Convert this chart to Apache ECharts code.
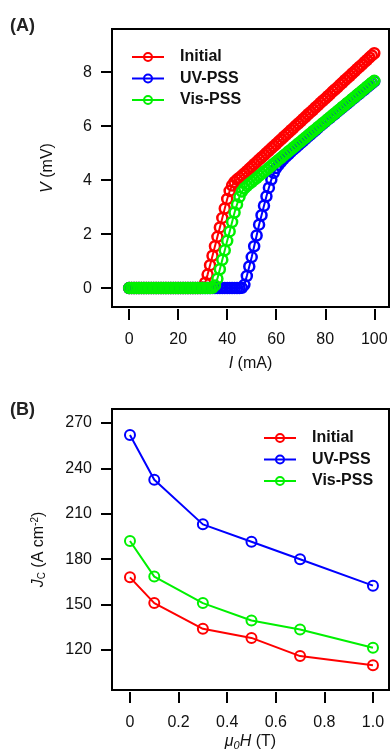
<!DOCTYPE html>
<html>
<head>
<meta charset="utf-8">
<script src="https://cdn.jsdelivr.net/npm/echarts@6/dist/echarts.min.js"></script>
<style>
  html, body { margin: 0; padding: 0; background: #fff; }
  #chart { width: 392px; height: 752px; }
</style>
</head>
<body>
<div id="chart"></div>
<script>
// (A) I-V curves, current in mA
const currentA = [
  0, 1, 2, 3, 4, 5, 6, 7, 8, 9,
  10, 11, 12, 13, 14, 15, 16, 17, 18, 19,
  20, 21, 22, 23, 24, 25, 26, 27, 28, 29,
  30, 31, 32, 33, 34, 35, 36, 37, 38, 39,
  40, 41, 42, 43, 44, 45, 46, 47, 48, 49,
  50, 51, 52, 53, 54, 55, 56, 57, 58, 59,
  60, 61, 62, 63, 64, 65, 66, 67, 68, 69,
  70, 71, 72, 73, 74, 75, 76, 77, 78, 79,
  80, 81, 82, 83, 84, 85, 86, 87, 88, 89,
  90, 91, 92, 93, 94, 95, 96, 97, 98, 99,
  100
];
// voltage in mV
const vInitial = [
  0, 0, 0, 0, 0, 0, 0, 0, 0, 0,
  0, 0, 0, 0, 0, 0, 0, 0, 0, 0,
  0, 0, 0, 0, 0, 0, 0, 0, 0, 0,
  0.02, 0.2, 0.5, 0.85, 1.2, 1.55, 1.9, 2.25, 2.6, 2.95,
  3.3, 3.6, 3.8, 3.93, 4.02, 4.09, 4.17, 4.25, 4.33, 4.42,
  4.50, 4.59, 4.67, 4.76, 4.84, 4.92, 5.01, 5.09, 5.18, 5.26,
  5.34, 5.43, 5.51, 5.60, 5.68, 5.76, 5.85, 5.93, 6.02, 6.10,
  6.18, 6.27, 6.35, 6.44, 6.52, 6.60, 6.69, 6.77, 6.86, 6.94,
  7.02, 7.11, 7.19, 7.28, 7.36, 7.44, 7.53, 7.61, 7.70, 7.78,
  7.86, 7.95, 8.03, 8.12, 8.20, 8.28, 8.37, 8.45, 8.54, 8.62,
  8.70
];
const vUV = [
  0, 0, 0, 0, 0, 0, 0, 0, 0, 0,
  0, 0, 0, 0, 0, 0, 0, 0, 0, 0,
  0, 0, 0, 0, 0, 0, 0, 0, 0, 0,
  0, 0, 0, 0, 0, 0, 0, 0, 0, 0,
  0, 0, 0, 0, 0, 0, 0.01, 0.12, 0.45, 0.8,
  1.15, 1.55, 1.95, 2.35, 2.7, 3.05, 3.4, 3.72, 4.02, 4.27,
  4.45, 4.57, 4.68, 4.78, 4.87, 4.96, 5.05, 5.13, 5.21, 5.29,
  5.37, 5.45, 5.53, 5.61, 5.69, 5.77, 5.85, 5.93, 6.01, 6.09,
  6.16, 6.24, 6.31, 6.39, 6.46, 6.54, 6.61, 6.69, 6.76, 6.84,
  6.91, 6.99, 7.06, 7.14, 7.21, 7.29, 7.36, 7.44, 7.51, 7.59,
  7.66
];
const vVis = [
  0, 0, 0, 0, 0, 0, 0, 0, 0, 0,
  0, 0, 0, 0, 0, 0, 0, 0, 0, 0,
  0, 0, 0, 0, 0, 0, 0, 0, 0, 0,
  0, 0, 0, 0, 0.01, 0.1, 0.35, 0.7, 1.05, 1.4,
  1.75, 2.1, 2.45, 2.8, 3.1, 3.38, 3.58, 3.7, 3.78, 3.86,
  3.93, 4.01, 4.08, 4.16, 4.23, 4.31, 4.38, 4.46, 4.53, 4.61,
  4.68, 4.76, 4.83, 4.91, 4.98, 5.06, 5.13, 5.21, 5.28, 5.36,
  5.43, 5.51, 5.58, 5.66, 5.73, 5.81, 5.88, 5.96, 6.03, 6.11,
  6.18, 6.26, 6.33, 6.41, 6.48, 6.56, 6.63, 6.71, 6.78, 6.86,
  6.93, 7.01, 7.08, 7.16, 7.23, 7.31, 7.38, 7.46, 7.53, 7.61,
  7.68
];

// (B) critical current density vs field
const fieldB = [0, 0.1, 0.3, 0.5, 0.7, 1.0];
const jcInitial = [168, 151, 134, 128, 116, 110];
const jcUV = [262, 232.5, 203, 191.5, 180, 162.5];
const jcVis = [192, 168.5, 151, 139.5, 133.5, 121.5];

const seriesNames = ['Initial', 'UV-PSS', 'Vis-PSS'];
const colors = ['#ff0000', '#0000ff', '#00f000'];

const ticksIA = [0, 20, 40, 60, 80, 100];
const ticksVA = [0, 2, 4, 6, 8];
const ticksHB = [0, 0.2, 0.4, 0.6, 0.8, 1.0];
const ticksJB = [120, 150, 180, 210, 240, 270];

const font = 'Liberation Sans, Arial, sans-serif';

const pairs = (xs, ys) => xs.map((x, i) => [x, ys[i]]);

function lineSeries(name, color, data, idx, size, stroke) {
  return {
    name: name,
    type: 'line',
    xAxisIndex: idx,
    yAxisIndex: idx,
    data: data,
    symbol: 'circle',
    symbolSize: size,
    showSymbol: true,
    lineStyle: { color: color, width: 2 },
    itemStyle: { color: 'rgba(255,255,255,0)', borderColor: color, borderWidth: stroke },
    emphasis: { disabled: true }
  };
}

const axisCommon = {
  type: 'value',
  axisLine: { show: false, onZero: false },
  splitLine: { show: false },
  axisTick: { show: true, inside: false, length: 11, lineStyle: { color: '#000', width: 2 } },
  axisLabel: { color: '#111', fontSize: 16, fontFamily: font },
  nameLocation: 'middle',
  nameTextStyle: {
    color: '#111', fontSize: 16, fontFamily: font,
    rich: {
      i: { fontSize: 16, fontStyle: 'italic', fontFamily: font, color: '#111' },
      isub: { fontSize: 11, fontStyle: 'italic', fontFamily: font, color: '#111', padding: [8, 0, 0, 0] },
      sub: { fontSize: 10, fontFamily: font, color: '#111', padding: [7, 0, 0, 0] },
      sup: { fontSize: 10, fontFamily: font, color: '#111', padding: [0, 0, 8, 0] }
    }
  }
};

const chart = echarts.init(document.getElementById('chart'));
chart.setOption({
  animation: false,
  backgroundColor: '#fff',
  title: [
    { text: '(A)', left: 5, top: 12, textStyle: { fontSize: 18, fontWeight: 'bold', fontFamily: font, color: '#222' } },
    { text: '(B)', left: 5, top: 396, textStyle: { fontSize: 18, fontWeight: 'bold', fontFamily: font, color: '#222' } }
  ],
  legend: [
    {
      orient: 'vertical', left: 131, top: 49, padding: 0, itemWidth: 32, itemHeight: 10, itemGap: 5.5,
      data: seriesNames,
      textStyle: { fontSize: 16, fontWeight: 'bold', fontFamily: font, color: '#111', padding: [0, 0, 0, 11] }
    },
    {
      orient: 'vertical', left: 263, top: 430, padding: 0, itemWidth: 32, itemHeight: 10, itemGap: 5.5,
      data: seriesNames,
      textStyle: { fontSize: 16, fontWeight: 'bold', fontFamily: font, color: '#111', padding: [0, 0, 0, 11] }
    }
  ],
  grid: [
    { left: 112, top: 29, width: 277, height: 278, show: true, borderColor: '#000', borderWidth: 2 },
    { left: 112, top: 409, width: 277, height: 281, show: true, borderColor: '#000', borderWidth: 2 }
  ],
  xAxis: [
    Object.assign({}, axisCommon, {
      gridIndex: 0, min: -7, max: 106, offset: 2,
      name: '{i|I} (mA)', nameGap: 47,
      axisTick: Object.assign({}, axisCommon.axisTick, { customValues: ticksIA }),
      axisLabel: Object.assign({}, axisCommon.axisLabel, { customValues: ticksIA, margin: 23 })
    }),
    Object.assign({}, axisCommon, {
      gridIndex: 1, min: -0.074, max: 1.066, offset: 2,
      name: '{i|\u03bc}{isub|0}{i|H} (T)', nameGap: 40,
      axisTick: Object.assign({}, axisCommon.axisTick, { customValues: ticksHB }),
      axisLabel: Object.assign({}, axisCommon.axisLabel, {
        customValues: ticksHB, margin: 23,
        formatter: v => (v === 0 ? '0' : v.toFixed(1))
      })
    })
  ],
  yAxis: [
    Object.assign({}, axisCommon, {
      gridIndex: 0, min: -0.7, max: 9.6,
      name: '{i|V} (mV)', nameGap: 56,
      axisTick: Object.assign({}, axisCommon.axisTick, { customValues: ticksVA }),
      axisLabel: Object.assign({}, axisCommon.axisLabel, { customValues: ticksVA, margin: 20 })
    }),
    Object.assign({}, axisCommon, {
      gridIndex: 1, min: 93.6, max: 279.2,
      name: '{i|J}{sub|C} (A cm{sup|-2})', nameGap: 64,
      axisTick: Object.assign({}, axisCommon.axisTick, { customValues: ticksJB }),
      axisLabel: Object.assign({}, axisCommon.axisLabel, { customValues: ticksJB, margin: 20 })
    })
  ],
  series: [
    lineSeries(seriesNames[0], colors[0], pairs(currentA, vInitial), 0, 10, 2.5),
    lineSeries(seriesNames[1], colors[1], pairs(currentA, vUV), 0, 10, 2.5),
    lineSeries(seriesNames[2], colors[2], pairs(currentA, vVis), 0, 10, 2.5),
    lineSeries(seriesNames[0], colors[0], pairs(fieldB, jcInitial), 1, 10, 2),
    lineSeries(seriesNames[1], colors[1], pairs(fieldB, jcUV), 1, 10, 2),
    lineSeries(seriesNames[2], colors[2], pairs(fieldB, jcVis), 1, 10, 2)
  ]
});
</script>
</body>
</html>
